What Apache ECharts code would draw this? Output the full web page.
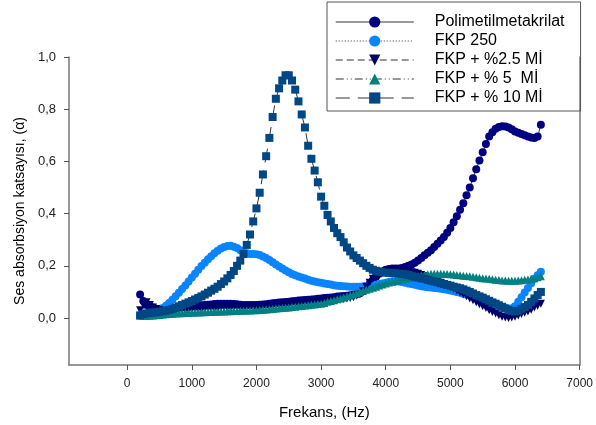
<!DOCTYPE html>
<html>
<head>
<meta charset="utf-8">
<script src="https://cdn.jsdelivr.net/npm/echarts@6/dist/echarts.min.js"></script>
<style>html,body{margin:0;padding:0;background:#fff}#c{width:596px;height:425px}</style>
</head>
<body>
<div id="c"></div>
<script>
const seriesNames = ['Polimetilmetakrilat', 'FKP 250', 'FKP + %2.5 Mİ', 'FKP + % 5  Mİ', 'FKP + % 10 Mİ'];
const xTicks = [0, 1000, 2000, 3000, 4000, 5000, 6000, 7000];
const yTicks = [0, 0.2, 0.4, 0.6, 0.8, 1.0];

const freq = [200,250,300,350,400,450,500,550,600,650,
  700,750,800,850,900,950,1000,1050,1100,1150,
  1200,1250,1300,1350,1400,1450,1500,1550,1600,1650,
  1700,1750,1800,1850,1900,1950,2000,2050,2100,2150,
  2200,2250,2300,2350,2400,2450,2500,2550,2600,2650,
  2700,2750,2800,2850,2900,2950,3000,3050,3100,3150,
  3200,3250,3300,3350,3400,3450,3500,3550,3600,3650,
  3700,3750,3800,3850,3900,3950,4000,4050,4100,4150,
  4200,4250,4300,4350,4400,4450,4500,4550,4600,4650,
  4700,4750,4800,4850,4900,4950,5000,5050,5100,5150,
  5200,5250,5300,5350,5400,5450,5500,5550,5600,5650,
  5700,5750,5800,5850,5900,5950,6000,6050,6100,6150,
  6200,6250,6300,6350,6400];

const pmma = [0.09,0.065,0.05,0.045,0.04,0.035,0.03,0.03,0.03,0.032,
  0.035,0.038,0.04,0.041,0.042,0.044,0.045,0.047,0.048,0.049,
  0.05,0.051,0.052,0.054,0.055,0.055,0.055,0.055,0.055,0.054,
  0.053,0.051,0.05,0.05,0.05,0.05,0.05,0.051,0.052,0.053,
  0.055,0.057,0.058,0.059,0.06,0.061,0.062,0.064,0.065,0.067,
  0.068,0.069,0.07,0.071,0.072,0.074,0.075,0.077,0.078,0.079,
  0.08,0.082,0.083,0.084,0.085,0.087,0.09,0.092,0.095,0.103,
  0.115,0.13,0.145,0.158,0.17,0.178,0.185,0.188,0.19,0.19,
  0.19,0.192,0.195,0.2,0.205,0.212,0.22,0.23,0.24,0.25,
  0.26,0.272,0.285,0.297,0.31,0.327,0.345,0.367,0.39,0.415,
  0.44,0.47,0.5,0.535,0.57,0.603,0.635,0.667,0.695,0.712,
  0.725,0.732,0.735,0.734,0.73,0.723,0.715,0.71,0.705,0.7,
  0.695,0.692,0.69,0.695,0.74];

const fkp250 = [0.01,0.012,0.015,0.017,0.02,0.025,0.03,0.038,0.047,0.058,
  0.07,0.083,0.097,0.111,0.125,0.14,0.155,0.17,0.185,0.199,
  0.212,0.225,0.237,0.248,0.258,0.266,0.272,0.276,0.277,0.273,
  0.268,0.26,0.252,0.248,0.245,0.245,0.244,0.241,0.236,0.23,
  0.222,0.214,0.205,0.197,0.19,0.182,0.175,0.169,0.164,0.159,
  0.155,0.151,0.147,0.143,0.14,0.137,0.135,0.132,0.13,0.128,
  0.126,0.124,0.123,0.122,0.121,0.12,0.12,0.12,0.12,0.121,
  0.122,0.123,0.125,0.127,0.13,0.132,0.135,0.138,0.14,0.14,
  0.14,0.138,0.135,0.132,0.13,0.127,0.125,0.122,0.12,0.118,
  0.117,0.115,0.114,0.112,0.11,0.108,0.105,0.103,0.1,0.097,
  0.093,0.09,0.087,0.083,0.08,0.075,0.07,0.065,0.06,0.055,
  0.05,0.046,0.042,0.038,0.035,0.037,0.045,0.062,0.08,0.098,
  0.115,0.133,0.15,0.164,0.177];

const mi25 = [0.03,0.05,0.06,0.05,0.04,0.035,0.03,0.027,0.025,0.026,
  0.028,0.029,0.03,0.031,0.032,0.033,0.034,0.034,0.035,0.035,
  0.036,0.036,0.037,0.037,0.038,0.039,0.04,0.04,0.04,0.04,
  0.04,0.04,0.04,0.04,0.04,0.041,0.042,0.043,0.044,0.045,
  0.046,0.047,0.048,0.049,0.05,0.051,0.052,0.053,0.055,0.056,
  0.057,0.058,0.06,0.061,0.062,0.063,0.065,0.066,0.067,0.068,
  0.07,0.071,0.072,0.073,0.075,0.077,0.08,0.085,0.09,0.103,
  0.12,0.135,0.15,0.16,0.17,0.175,0.18,0.183,0.185,0.185,
  0.185,0.183,0.18,0.178,0.175,0.173,0.17,0.165,0.16,0.155,
  0.15,0.145,0.14,0.135,0.13,0.125,0.12,0.113,0.105,0.098,
  0.09,0.083,0.075,0.068,0.06,0.053,0.045,0.038,0.03,0.023,
  0.017,0.011,0.005,0.002,0.0,0.002,0.005,0.01,0.015,0.02,
  0.025,0.032,0.04,0.047,0.055];

const mi5 = [0.01,0.009,0.008,0.009,0.01,0.011,0.012,0.013,0.014,0.015,
  0.016,0.017,0.018,0.018,0.019,0.02,0.02,0.021,0.021,0.022,
  0.022,0.023,0.023,0.024,0.024,0.025,0.025,0.026,0.026,0.027,
  0.027,0.028,0.028,0.029,0.029,0.03,0.03,0.031,0.032,0.033,
  0.034,0.035,0.036,0.037,0.038,0.039,0.04,0.042,0.043,0.045,
  0.046,0.048,0.049,0.051,0.052,0.054,0.055,0.058,0.062,0.065,
  0.068,0.072,0.075,0.079,0.083,0.087,0.091,0.096,0.1,0.104,
  0.108,0.112,0.116,0.12,0.125,0.128,0.132,0.136,0.139,0.142,
  0.145,0.148,0.15,0.153,0.155,0.158,0.16,0.163,0.165,0.168,
  0.17,0.17,0.17,0.17,0.169,0.169,0.168,0.167,0.165,0.164,
  0.162,0.161,0.16,0.158,0.156,0.154,0.152,0.151,0.15,0.149,
  0.147,0.146,0.144,0.144,0.143,0.143,0.143,0.144,0.145,0.147,
  0.148,0.15,0.152,0.156,0.16];

const mi10 = [0.010,0.015,0.018,0.020,0.021,0.022,0.024,0.026,0.028,0.031,
  0.035,0.040,0.045,0.050,0.055,0.060,0.065,0.071,0.077,0.083,
  0.090,0.097,0.105,0.112,0.120,0.130,0.140,0.152,0.165,0.180,
  0.200,0.220,0.245,0.280,0.320,0.370,0.420,0.480,0.550,0.620,
  0.690,0.770,0.840,0.880,0.910,0.930,0.930,0.910,0.875,0.830,
  0.780,0.730,0.660,0.610,0.565,0.520,0.465,0.430,0.395,0.370,
  0.345,0.325,0.310,0.290,0.270,0.255,0.240,0.230,0.220,0.210,
  0.200,0.192,0.185,0.181,0.178,0.176,0.174,0.173,0.172,0.171,
  0.170,0.169,0.168,0.165,0.162,0.158,0.155,0.152,0.150,0.146,
  0.143,0.140,0.137,0.133,0.130,0.127,0.124,0.120,0.117,0.114,
  0.110,0.105,0.100,0.094,0.088,0.083,0.078,0.072,0.066,0.060,
  0.055,0.049,0.043,0.037,0.031,0.027,0.025,0.028,0.035,0.042,
  0.050,0.062,0.075,0.088,0.100];

const pair = (xs, ys) => xs.map((x, i) => [x, ys[i]]);
const fontFam = 'Arial, "Liberation Sans", sans-serif';
const downTri = 'path://M0,0L10,0L5,9Z';

const defs = [
  {name: seriesNames[0], data: pair(freq, pmma), color: '#000080', symbol: 'circle', size: 8, type: 'solid'},
  {name: seriesNames[1], data: pair(freq, fkp250), color: '#0a84ff', symbol: 'circle', size: 8, type: [1, 2]},
  {name: seriesNames[2], data: pair(freq, mi25), color: '#00006a', symbol: downTri, size: 8, type: [7, 4]},
  {name: seriesNames[3], data: pair(freq, mi5), color: '#008080', symbol: 'triangle', size: 8, type: [8, 3, 1, 3, 1, 3]},
  {name: seriesNames[4], data: pair(freq, mi10), color: '#004785', symbol: 'rect', size: 8, type: [14, 8]}
];

const chart = echarts.init(document.getElementById('c'), null, {renderer: 'canvas'});
chart.setOption({
  animation: false,
  backgroundColor: '#fff',
  grid: {left: 69, right: 14, top: 57, bottom: 59},
  legend: {
    orient: 'vertical',
    left: 327, top: 2,
    padding: [12, 16, 5, 8],
    itemWidth: 78, itemHeight: 14, itemGap: 3,
    borderColor: '#555', borderWidth: 1,
    textStyle: {fontFamily: fontFam, fontSize: 16, lineHeight: 16, color: '#000', padding: [0, 0, 0, 16]},
    data: defs.map(d => ({name: d.name, lineStyle: {color: '#777', width: 1.5, type: d.type}}))
  },
  xAxis: {
    type: 'value', min: -900, max: 7000,
    name: 'Frekans, (Hz)', nameLocation: 'middle', nameGap: 40,
    nameTextStyle: {fontFamily: fontFam, fontSize: 15, color: '#000'},
    axisLine: {show: true, onZero: false, lineStyle: {color: '#777', width: 1.5}},
    axisTick: {show: true, length: 5, customValues: xTicks, lineStyle: {color: '#555'}},
    axisLabel: {customValues: xTicks, fontFamily: fontFam, fontSize: 12, color: '#222', margin: 13,
      formatter: v => String(v)},
    splitLine: {show: false}
  },
  yAxis: [{
    type: 'value', min: -0.18, max: 1.0,
    name: 'Ses absorbsiyon katsayısı, (α)', nameLocation: 'middle', nameGap: 42, nameRotate: 90,
    nameTextStyle: {fontFamily: fontFam, fontSize: 14, color: '#000'},
    axisLine: {show: true, onZero: false, lineStyle: {color: '#777', width: 1.5}},
    axisTick: {show: true, length: 5, customValues: yTicks, lineStyle: {color: '#555'}},
    axisLabel: {customValues: yTicks, fontFamily: fontFam, fontSize: 13, color: '#222', margin: 13,
      formatter: v => v.toFixed(1).replace('.', ',')},
    splitLine: {show: false}
  }, {
    type: 'value', min: -0.18, max: 1.0, position: 'right',
    axisLine: {show: true, onZero: false, lineStyle: {color: '#777', width: 1.5}},
    axisTick: {show: false}, axisLabel: {show: false}, splitLine: {show: false}
  }],
  series: defs.map(d => ({
    name: d.name, type: 'line', data: d.data,
    symbol: d.symbol, symbolSize: d.size, showAllSymbol: true,
    itemStyle: {color: d.color},
    lineStyle: {color: '#000', width: 0.8, type: d.type},
    emphasis: {disabled: true}
  }))
});
</script>
</body>
</html>
